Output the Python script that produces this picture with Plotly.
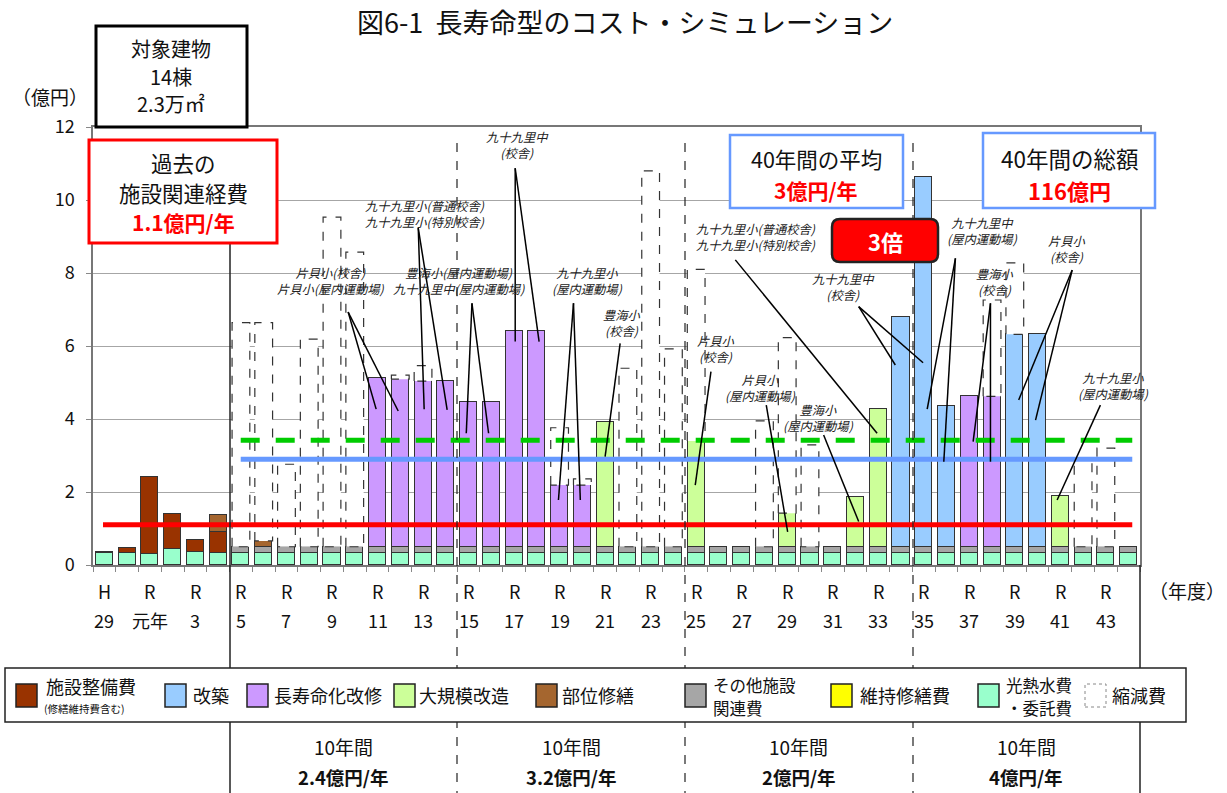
import plotly.graph_objects as go

# ---------------------------------------------------------------- data
# fiscal years: H29, H30, R1 (元年) ... R44
years = ["H29", "H30"] + [f"R{i}" for i in range(1, 45)]

# 億円 per year, one value per fiscal year (past 6 years, then R5-R14, R15-R24, R25-R34, R35-R44)
utility = [0.34, 0.32, 0.30, 0.43, 0.36, 0.32,
           0.34, 0.34, 0.34, 0.34, 0.34, 0.34, 0.34, 0.34, 0.34, 0.34,
           0.34, 0.34, 0.34, 0.34, 0.34, 0.34, 0.34, 0.34, 0.34, 0.34,
           0.34, 0.34, 0.34, 0.34, 0.34, 0.34, 0.34, 0.34, 0.34, 0.34,
           0.34, 0.34, 0.34, 0.34, 0.34, 0.34, 0.34, 0.34, 0.34, 0.34]
other = [0, 0, 0, 0, 0, 0,
         0.16, 0.16, 0.16, 0.16, 0.16, 0.16, 0.16, 0.16, 0.16, 0.16,
         0.16, 0.16, 0.16, 0.16, 0.16, 0.16, 0.16, 0.16, 0.16, 0.16,
         0.16, 0.16, 0.16, 0.16, 0.16, 0.16, 0.16, 0.16, 0.16, 0.16,
         0.16, 0.16, 0.16, 0.16, 0.16, 0.16, 0.16, 0.16, 0.16, 0.16]
facility = [0.03, 0.15, 2.10, 0.98, 0.32, 0.58,
            0, 0, 0, 0, 0, 0, 0, 0, 0, 0,
            0, 0, 0, 0, 0, 0, 0, 0, 0, 0,
            0, 0, 0, 0, 0, 0, 0, 0, 0, 0,
            0, 0, 0, 0, 0, 0, 0, 0, 0, 0]
partial = [0, 0, 0, 0, 0, 0.47,
           0, 0.16, 0, 0, 0, 0, 0, 0, 0, 0,
           0, 0, 0, 0, 0, 0, 0, 0, 0, 0,
           0, 0, 0, 0, 0, 0, 0, 0, 0, 0,
           0, 0, 0, 0, 0, 0, 0, 0, 0, 0]
rebuild = [0, 0, 0, 0, 0, 0,
           0, 0, 0, 0, 0, 0, 0, 0, 0, 0,
           0, 0, 0, 0, 0, 0, 0, 0, 0, 0,
           0, 0, 0, 0, 0, 0, 0, 0, 0, 6.29,
           10.14, 3.87, 0, 0, 5.82, 5.82, 0, 0, 0, 0]
longlife = [0, 0, 0, 0, 0, 0,
            0, 0, 0, 0, 0, 0, 4.61, 4.59, 4.54, 4.54,
            3.96, 3.96, 5.92, 5.92, 1.69, 1.69, 0, 0, 0, 0,
            0, 0, 0, 0, 0, 0, 0, 0, 0, 0,
            0, 0, 4.12, 4.12, 0, 0, 0, 0, 0, 0]
major = [0, 0, 0, 0, 0, 0,
         0, 0, 0, 0, 0, 0, 0, 0, 0, 0,
         0, 0, 0, 0, 0, 0, 3.43, 0, 0, 0,
         2.90, 0, 0, 0, 0.92, 0, 0, 1.37, 3.77, 0,
         0, 0, 0, 0, 0, 0, 1.40, 0, 0, 0]
reduction = [0, 0, 0, 0, 0, 0,
             6.14, 5.98, 2.26, 5.69, 9.03, 8.07, 0, 0.11, 0.42, 0,
             0, 0, 0, 0, 1.57, 0.17, 0, 4.89, 10.30, 5.42,
             4.70, 0, 0, 3.45, 4.81, 2.79, 0, 0, 0, 0,
             0, 0, 0, 2.64, 1.96, 0, 0, 2.38, 2.70, 0]

past_avg = 1.1      # 過去の施設関連経費
plan_avg = 2.9      # 40年間の平均
green_level = 3.42

# x-axis labels (every other year)
label_pos = [0, 2, 4, 6, 8, 10, 12, 14, 16, 18, 20, 22, 24, 26, 28, 30, 32, 34, 36, 38, 40, 42, 44]
label_top = ["H"] + ["R"] * 22
label_bottom = ["29", "元年", "3", "5", "7", "9", "11", "13", "15", "17", "19", "21",
                "23", "25", "27", "29", "31", "33", "35", "37", "39", "41", "43"]

period_titles = ["10年間"] * 4
period_rates = ["2.4億円/年", "3.2億円/年", "2億円/年", "4億円/年"]

# building call-outs: text, text anchor, line origin, line targets (year index, value)
callouts = [
    ("片貝小(校舎)<br>片貝小(屋内運動場)", (9.95, 7.78), (10.71, 6.93), [(11.94, 4.27), (12.91, 4.22)]),
    ("九十九里小(普通校舎)<br>九十九里小(特別校舎)", (14.1, 9.62), (13.79, 9.23), [(14.05, 4.27), (15.06, 4.25)]),
    ("豊海小(屋内運動場)<br>九十九里中(屋内運動場)", (15.6, 7.78), (16.15, 7.17), [(15.9, 3.61), (16.88, 3.61)]),
    ("九十九里中<br>(校舎)", (18.14, 11.5), (18.05, 10.87), [(18.05, 6.12), (19.1, 6.12)]),
    ("九十九里小<br>(屋内運動場)", (21.21, 7.78), (20.61, 7.17), [(19.95, 1.78), (20.91, 1.78)]),
    ("豊海小<br>(校舎)", (22.75, 6.63), (22.66, 6.07), [(22.0, 2.97)]),
    ("九十九里小(普通校舎)<br>九十九里小(特別校舎)", (28.64, 8.99), (27.72, 8.36), [(33.95, 3.61)]),
    ("片貝小<br>(校舎)", (26.88, 5.92), (26.65, 5.3), [(25.96, 2.19)]),
    ("片貝小<br>(屋内運動場)", (28.82, 4.85), (29.08, 4.38), [(30.02, 0.91)]),
    ("豊海小<br>(屋内運動場)", (31.37, 4.03), (31.6, 3.56), [(33.14, 1.19)]),
    ("九十九里中<br>(校舎)", (32.47, 7.62), (33.14, 7.08), [(34.75, 5.48), (35.97, 5.54)]),
    ("九十九里中<br>(屋内運動場)", (38.58, 9.15), (37.39, 8.4), [(36.15, 4.27), (36.88, 2.83)]),
    ("豊海小<br>(校舎)", (39.15, 7.75), (38.93, 7.17), [(38.17, 3.38), (38.93, 2.83)]),
    ("片貝小<br>(校舎)", (42.31, 8.66), (42.52, 8.08), [(40.17, 4.52), (40.91, 3.97)]),
    ("九十九里小<br>(屋内運動場)", (44.34, 4.9), (43.76, 4.38), [(41.86, 1.78)]),
]

# ---------------------------------------------------------------- layout helpers
W, H = 1227, 793
PL, PR, PT, PB = 93, 1140, 127, 565   # plot area in pixels
FONT = "Noto Sans CJK JP, Noto Sans, sans-serif"


def fx(px):
    return (px - PL) / (PR - PL)


def fy(py):
    return (PB - py) / (PB - PT)


def nz(vals):
    return [v if v else None for v in vals]


x = list(range(len(years)))
fig = go.Figure()

stack_series = [
    ("光熱水費・委託費", utility, "#99FFCC"),
    ("その他施設関連費", other, "#A6A6A6"),
    ("施設整備費", facility, "#993300"),
    ("部位修繕", partial, "#A5662F"),
    ("改築", rebuild, "#99CCFF"),
    ("長寿命化改修", longlife, "#CC99FF"),
    ("大規模改造", major, "#CCFF99"),
]
for name, vals, col in stack_series:
    fig.add_trace(go.Bar(
        x=x, y=nz(vals), name=name, width=0.75,
        marker=dict(color=col, line=dict(color="#333333", width=1)),
        showlegend=False, hoverinfo="skip"))

# 縮減費: white boxes with dashed outline stacked on each year's total
bx, by = [], []
for i in x:
    if reduction[i]:
        b0 = utility[i] + other[i] + facility[i] + partial[i] + rebuild[i] + longlife[i] + major[i]
        b1 = b0 + reduction[i]
        xl, xr = i - 0.39, i + 0.39
        bx += [xl, xl, xr, xr, xl, None]
        by += [b0, b1, b1, b0, b0, None]
fig.add_trace(go.Scatter(
    x=bx, y=by, mode="lines", fill="toself", fillcolor="white",
    line=dict(color="#333333", width=1.2, dash="dash"),
    showlegend=False, hoverinfo="skip"))

# average lines
fig.add_trace(go.Scatter(x=[-0.06, 45.16], y=[past_avg, past_avg], mode="lines",
                         line=dict(color="#FF0000", width=5), showlegend=False, hoverinfo="skip"))
fig.add_trace(go.Scatter(x=[5.99, 45.16], y=[plan_avg, plan_avg], mode="lines",
                         line=dict(color="#6699FF", width=5), showlegend=False, hoverinfo="skip"))
fig.add_trace(go.Scatter(x=[5.99, 45.16], y=[green_level, green_level], mode="lines",
                         line=dict(color="#00CC00", width=5, dash="19px,16px"),
                         showlegend=False, hoverinfo="skip"))

shapes = []
annotations = []

# call-out lines and labels
for text_, (tx, ty), (sx, sy), targets in callouts:
    for (ex, ey) in targets:
        shapes.append(dict(type="line", xref="x", yref="y", x0=sx, y0=sy, x1=ex, y1=ey,
                           line=dict(color="black", width=1.5), layer="above"))
    annotations.append(dict(xref="x", yref="y", x=tx, y=ty, text=f"<i>{text_}</i>",
                            showarrow=False, align="center",
                            font=dict(family=FONT, size=12.3, color="#222222")))

# period separators running from the plot down through the footer
sep_px = [(230, "solid", 1.5), (457, "dash", 1.2), (685, "dash", 1.2), (913, "dash", 1.2)]
for sx_px, dash, wdt in sep_px:
    shapes.append(dict(type="line", xref="paper", yref="paper", x0=fx(sx_px), x1=fx(sx_px),
                       y0=fy(143), y1=fy(793), line=dict(color="#222222", width=wdt, dash=dash),
                       layer="above"))
shapes.append(dict(type="line", xref="paper", yref="paper", x0=1, x1=1, y0=0, y1=fy(793),
                   line=dict(color="#222222", width=1.5), layer="above"))


def box(x0, y0, x1, y1, color, width, fill="white"):
    shapes.append(dict(type="rect", xref="paper", yref="paper", x0=fx(x0), x1=fx(x1),
                       y0=fy(y1), y1=fy(y0), line=dict(color=color, width=width),
                       fillcolor=fill, layer="above"))


def text(px, py, s, size, color="#111111", xanchor="center"):
    annotations.append(dict(xref="paper", yref="paper", x=fx(px), y=fy(py), text=s,
                            showarrow=False, xanchor=xanchor, yanchor="middle",
                            font=dict(family=FONT, size=size, color=color)))


# info boxes
box(96, 26, 247, 127, "black", 3)
text(171, 48, "対象建物", 20)
text(171, 76, "14棟", 20)
text(171, 103, "2.3万㎡", 20)

box(89, 140, 277, 243, "#FF0000", 3)
text(183, 162, "過去の", 21.5)
text(183, 192, "施設関連経費", 21.5)
text(183, 222, "<b>1.1億円/年</b>", 21, "#FF0000")

box(730, 135, 903, 208, "#6699FF", 2.5)
text(816, 158, "40年間の平均", 21.5)
text(816, 190, "<b>3億円/年</b>", 21, "#FF0000")

box(983, 133, 1155, 208, "#6699FF", 2.5)
text(1069, 158, "40年間の総額", 22.5)
text(1069, 190, "<b>116億円</b>", 22, "#FF0000")

# "3倍" rounded badge
bx0, by0, bx1, by1, r = 832, 219, 938, 262, 8
path = (f"M {fx(bx0 + r)} {fy(by0)} L {fx(bx1 - r)} {fy(by0)} Q {fx(bx1)} {fy(by0)} {fx(bx1)} {fy(by0 + r)} "
        f"L {fx(bx1)} {fy(by1 - r)} Q {fx(bx1)} {fy(by1)} {fx(bx1 - r)} {fy(by1)} "
        f"L {fx(bx0 + r)} {fy(by1)} Q {fx(bx0)} {fy(by1)} {fx(bx0)} {fy(by1 - r)} "
        f"L {fx(bx0)} {fy(by0 + r)} Q {fx(bx0)} {fy(by0)} {fx(bx0 + r)} {fy(by0)} Z")
shapes.append(dict(type="path", xref="paper", yref="paper", path=path, fillcolor="#FF0000",
                   line=dict(color="#222222", width=2.5), layer="above"))
text(885, 241, "<b>3倍</b>", 22, "white")

# title and axis captions
text(625, 22, "図6-1\u00a0\u00a0長寿命型のコスト・シミュレーション", 27)
text(50, 97, "（億円）", 19)
text(1187, 590, "（年度）", 19)

# x tick labels
for pos, top, bottom in zip(label_pos, label_top, label_bottom):
    annotations.append(dict(xref="x", yref="paper", x=pos, y=fy(591), text=top, showarrow=False,
                            yanchor="middle", font=dict(family=FONT, size=18, color="#111111")))
    annotations.append(dict(xref="x", yref="paper", x=pos, y=fy(620), text=bottom, showarrow=False,
                            yanchor="middle", font=dict(family=FONT, size=18, color="#111111")))

# legend panel
box(5, 668, 1186, 722, "#222222", 1.5)
legend_items = [
    (16, "#993300", "solid", ["施設整備費"], 44),
    (165, "#99CCFF", "solid", ["改築"], 191),
    (247, "#CC99FF", "solid", ["長寿命化改修"], 272),
    (394, "#CCFF99", "solid", ["大規模改造"], 417),
    (536, "#A5662F", "solid", ["部位修繕"], 560),
    (685, "#A6A6A6", "solid", ["その他施設", "関連費"], 711),
    (831, "#FFFF00", "solid", ["維持修繕費"], 858),
    (978, "#99FFCC", "solid", ["光熱水費", "・委託費"], 1004),
    (1085, "white", "dot", ["縮減費"], 1110),
]
for sx0, col, dash, lines, tx0 in legend_items:
    shapes.append(dict(type="rect", xref="paper", yref="paper", x0=fx(sx0), x1=fx(sx0 + 21),
                       y0=fy(707), y1=fy(684), fillcolor=col, layer="above",
                       line=dict(color="#222222" if dash == "solid" else "#888888",
                                 width=1.5 if dash == "solid" else 1, dash=dash)))
    if lines[0] == "施設整備費":
        text(tx0, 686, lines[0], 18, xanchor="left")
        text(tx0 - 2, 708, "(修繕維持費含む)", 10.5, xanchor="left")
    elif len(lines) == 2:
        text(tx0, 685, lines[0], 16.5, xanchor="left")
        text(tx0, 708, lines[1], 16.5, xanchor="left")
    else:
        text(tx0, 695, lines[0], 18, xanchor="left")

# period summaries under the legend
for k, (t1, t2) in enumerate(zip(period_titles, period_rates)):
    cx = 343.5 + 227.5 * k
    text(cx, 746, t1, 19)
    text(cx, 777, f"<b>{t2}</b>", 18.5)

fig.update_layout(
    width=W, height=H, autosize=False,
    margin=dict(l=PL, r=W - PR, t=PT, b=H - PB, pad=0),
    paper_bgcolor="white", plot_bgcolor="white",
    barmode="stack", bargap=0,
    shapes=shapes, annotations=annotations,
    font=dict(family=FONT, color="#111111"),
    xaxis=dict(range=[-0.5, 45.5], tickmode="array",
               tickvals=[i + 0.5 for i in range(-1, 46)],
               showticklabels=False, ticks="outside", ticklen=5, tickcolor="#888888",
               showgrid=False, zeroline=False, showline=True, linecolor="#777777",
               linewidth=1.5, mirror=True),
    yaxis=dict(range=[0, 12], tickmode="array", tickvals=[0, 2, 4, 6, 8, 10, 12],
               ticks="outside", ticklen=5, tickcolor="#888888",
               tickfont=dict(family=FONT, size=18, color="#111111"),
               showgrid=True, gridcolor="#A6A6A6", gridwidth=1, zeroline=False,
               showline=True, linecolor="#777777", linewidth=1.5, mirror=True,
               ticklabelstandoff=8),
)

fig.write_html("out.html")
